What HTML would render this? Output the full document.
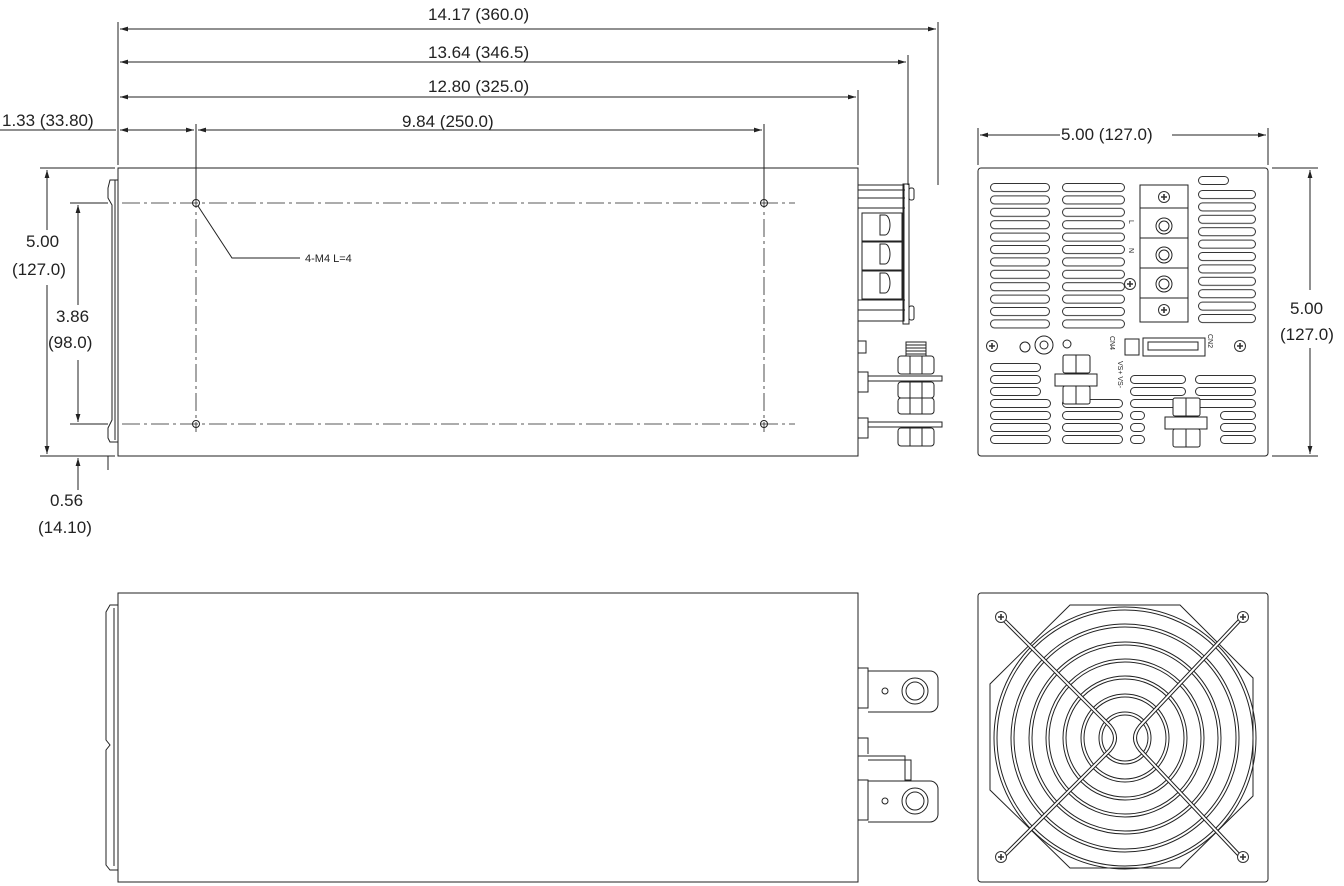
<!DOCTYPE html>
<html><head><meta charset="utf-8"><style>
html,body{margin:0;padding:0;background:#fff}
svg{display:block}
text{font-family:"Liberation Sans",sans-serif;fill:#222}
</style></head><body>
<svg width="1344" height="886" viewBox="0 0 1344 886" xmlns="http://www.w3.org/2000/svg">
<defs>
<marker id="a" viewBox="0 0 10 10" refX="10" refY="5" markerWidth="8" markerHeight="8" orient="auto-start-reverse"><path d="M0,2 L10,5 L0,8 z" fill="#222"/></marker>
<pattern id="vL1" x="990" y="183" width="200" height="12.4" patternUnits="userSpaceOnUse"><rect x="0.5" y="0.5" width="59" height="8" rx="4" fill="none" stroke="#333" stroke-width="1"/></pattern>
<pattern id="vL2" x="1062" y="183" width="200" height="12.4" patternUnits="userSpaceOnUse"><rect x="0.5" y="0.5" width="62" height="8" rx="4" fill="none" stroke="#333" stroke-width="1"/></pattern>
<pattern id="vR" x="1198" y="190" width="200" height="12.4" patternUnits="userSpaceOnUse"><rect x="0.5" y="0.5" width="57" height="8" rx="4" fill="none" stroke="#333" stroke-width="1"/></pattern>
<g id="scr"><circle r="5.5" fill="#fff" stroke="#333"/><path d="M-3,0H3M0,-3V3" stroke="#333" stroke-width="1.6"/></g>
</defs>
<g fill="none" stroke="#222" stroke-width="1">
<line x1="118" y1="22" x2="118" y2="165"/>
<line x1="938" y1="22" x2="938" y2="185"/>
<line x1="908" y1="55" x2="908" y2="185"/>
<line x1="858" y1="90" x2="858" y2="165"/>
<line x1="196" y1="124" x2="196" y2="200"/>
<line x1="764" y1="124" x2="764" y2="200"/>
<line x1="120" y1="29" x2="936" y2="29" marker-start="url(#a)" marker-end="url(#a)"/>
<line x1="120" y1="62" x2="906" y2="62" marker-start="url(#a)" marker-end="url(#a)"/>
<line x1="120" y1="97" x2="856" y2="97" marker-start="url(#a)" marker-end="url(#a)"/>
<line x1="0" y1="130" x2="116" y2="130"/>
<line x1="120" y1="130" x2="194" y2="130" marker-start="url(#a)" marker-end="url(#a)"/>
<line x1="198" y1="130" x2="762" y2="130" marker-start="url(#a)" marker-end="url(#a)"/>
<line x1="40" y1="168" x2="115" y2="168"/>
<line x1="40" y1="456" x2="115" y2="456"/>
<line x1="70" y1="203" x2="108" y2="203"/>
<line x1="70" y1="424" x2="108" y2="424"/>
<line x1="47" y1="170" x2="47" y2="230" marker-start="url(#a)"/>
<line x1="47" y1="285" x2="47" y2="454" marker-end="url(#a)"/>
<line x1="78" y1="205" x2="78" y2="305" marker-start="url(#a)"/>
<line x1="78" y1="360" x2="78" y2="422" marker-end="url(#a)"/>
<line x1="78" y1="458" x2="78" y2="490" marker-start="url(#a)"/>
<line x1="108" y1="456" x2="108" y2="470"/>
<rect x="118" y="168" width="740" height="288"/>
<path d="M118,180 L110,180 L108,188 L108,198 L112,205 L112,420 L108,428 L108,438 L110,442 L118,442"/>
<path d="M115,180 L115,440"/>
<g stroke-dasharray="18,4,3,4" stroke-width="0.8">
<line x1="122" y1="203" x2="795" y2="203"/>
<line x1="122" y1="424" x2="795" y2="424"/>
<line x1="196" y1="190" x2="196" y2="432"/>
<line x1="764" y1="190" x2="764" y2="432"/>
</g>
<circle cx="196" cy="203" r="3.5"/><circle cx="764" cy="203" r="3.5"/>
<circle cx="196" cy="424" r="3.5"/><circle cx="764" cy="424" r="3.5"/>
<path d="M198,206 L232,258 L300,258"/>
<rect x="858" y="185" width="46" height="136"/>
<path d="M858,190H905M858,198H905M858,208H905M858,300H905M858,310H905"/>
<rect x="903" y="184" width="6" height="140"/>
<rect x="909" y="188" width="5" height="12" rx="2"/><rect x="909" y="306" width="5" height="14" rx="2"/>
<rect x="862" y="213" width="40" height="28"/><rect x="862" y="242" width="40" height="28"/><rect x="862" y="271" width="40" height="28"/>
<path d="M880,215 h5 a5,10 0 0 1 0,20 h-5z M880,244 h5 a5,10 0 0 1 0,20 h-5z M880,273 h5 a5,10 0 0 1 0,20 h-5z"/>
<rect x="858" y="341" width="8" height="12"/>
<rect x="858" y="372" width="10" height="20"/><rect x="858" y="418" width="10" height="20"/>
<rect x="868" y="376" width="74" height="5"/><rect x="868" y="422" width="74" height="5"/>
<rect x="906" y="342" width="20" height="14"/>
<path d="M906,345H926M906,348H926M906,351H926M906,354H926"/>
<rect x="898" y="356" width="36" height="18" rx="3"/>
<rect x="898" y="382" width="36" height="16" rx="3"/>
<rect x="898" y="398" width="36" height="16" rx="3"/>
<rect x="898" y="428" width="36" height="18" rx="3"/>
<path d="M910,356V374M922,356V374M910,382V414M922,382V414M910,428V446M922,428V446"/>
<rect x="978" y="168" width="290" height="288" rx="3"/>
<line x1="978" y1="128" x2="978" y2="165"/><line x1="1268" y1="128" x2="1268" y2="165"/>
<line x1="980" y1="135" x2="1060" y2="135" marker-start="url(#a)"/>
<line x1="1172" y1="135" x2="1266" y2="135" marker-end="url(#a)"/>
<line x1="1272" y1="168" x2="1318" y2="168"/><line x1="1272" y1="456" x2="1318" y2="456"/>
<line x1="1310" y1="170" x2="1310" y2="290" marker-start="url(#a)"/>
<line x1="1310" y1="348" x2="1310" y2="454" marker-end="url(#a)"/>
</g>
<rect x="990" y="183" width="62" height="148" fill="url(#vL1)"/>
<rect x="1062" y="183" width="66" height="148" fill="url(#vL2)"/>
<rect x="1198" y="190" width="60" height="135" fill="url(#vR)"/>
<g fill="none" stroke="#333" stroke-width="1">
<rect x="1198.5" y="176.5" width="30" height="8" rx="4"/>
<!-- bottom vents -->
<rect x="990.5" y="363.5" width="50" height="8" rx="4"/>
<rect x="990.5" y="375.5" width="50" height="8" rx="4"/>
<rect x="990.5" y="387.5" width="50" height="8" rx="4"/>
<rect x="990.5" y="399.5" width="60" height="8" rx="4"/>
<rect x="990.5" y="411.5" width="60" height="8" rx="4"/>
<rect x="990.5" y="423.5" width="60" height="8" rx="4"/>
<rect x="990.5" y="435.5" width="60" height="8" rx="4"/>
<rect x="1062.5" y="399.5" width="60" height="8" rx="4"/>
<rect x="1062.5" y="411.5" width="60" height="8" rx="4"/>
<rect x="1062.5" y="423.5" width="60" height="8" rx="4"/>
<rect x="1062.5" y="435.5" width="60" height="8" rx="4"/>
<rect x="1130.5" y="375.5" width="55" height="8" rx="4"/>
<rect x="1130.5" y="387.5" width="55" height="8" rx="4"/>
<rect x="1130.5" y="399.5" width="55" height="8" rx="4"/>
<rect x="1130.5" y="411.5" width="14" height="8" rx="4"/>
<rect x="1130.5" y="423.5" width="14" height="8" rx="4"/>
<rect x="1130.5" y="435.5" width="14" height="8" rx="4"/>
<rect x="1195.5" y="375.5" width="60" height="8" rx="4"/>
<rect x="1195.5" y="387.5" width="60" height="8" rx="4"/>
<rect x="1195.5" y="399.5" width="60" height="8" rx="4"/>
<rect x="1220.5" y="411.5" width="35" height="8" rx="4"/>
<rect x="1220.5" y="423.5" width="35" height="8" rx="4"/>
<rect x="1220.5" y="435.5" width="35" height="8" rx="4"/>
</g>
<g fill="none" stroke="#222" stroke-width="1">
<rect x="1140" y="185" width="48" height="137"/>
<path d="M1140,208H1188M1140,298H1188M1140,238H1188M1140,268H1188"/>
<circle cx="1164" cy="226" r="8"/><circle cx="1164" cy="226" r="5"/>
<circle cx="1164" cy="255" r="8"/><circle cx="1164" cy="255" r="5"/>
<circle cx="1164" cy="284" r="8"/><circle cx="1164" cy="284" r="5"/>
<circle cx="1025" cy="347" r="5"/>
<circle cx="1044" cy="345" r="9"/><circle cx="1044" cy="345" r="4"/>
<circle cx="1067" cy="344" r="4"/>
<rect x="1125" y="339" width="14" height="16"/>
<rect x="1143" y="338" width="62" height="18"/>
<path d="M1148,342h50v8h-50z"/>
<rect x="1063" y="355" width="27" height="18" rx="2" fill="#fff"/>
<rect x="1055" y="374" width="42" height="12" fill="#fff"/>
<rect x="1063" y="386" width="27" height="18" rx="2" fill="#fff"/>
<path d="M1076,355V373M1076,386V404"/>
<rect x="1173" y="398" width="27" height="18" rx="2" fill="#fff"/>
<rect x="1165" y="417" width="42" height="12" fill="#fff"/>
<rect x="1173" y="429" width="27" height="18" rx="2" fill="#fff"/>
<path d="M1186,398V416M1186,429V447"/>
</g>
<use href="#scr" x="1164" y="197"/><use href="#scr" x="1164" y="310"/>
<use href="#scr" x="992" y="346"/><use href="#scr" x="1240" y="346"/>
<use href="#scr" x="1130" y="284"/>
<g font-size="7"><text x="1128" y="227" transform="rotate(90 1132 224)">L</text><text x="1128" y="255" transform="rotate(90 1132 252)">N</text>
<text x="1104" y="350" transform="rotate(90 1114 346)">CN4</text><text x="1200" y="350" transform="rotate(90 1212 346)">CN2</text>
<text x="1115" y="372" transform="rotate(90 1122 368)">VS+ VS-</text></g>
<g fill="none" stroke="#222" stroke-width="1">
<rect x="118" y="593" width="740" height="289"/>
<path d="M118,605 L110,605 L106,612 L106,740 L110,745 L106,750 L106,865 L110,870 L118,870"/>
<path d="M114,608 L114,866"/>
<rect x="858" y="668" width="10" height="40"/><rect x="858" y="780" width="10" height="40"/>
<path d="M868,671 H930 a8,8 0 0 1 8,8 V704 a8,8 0 0 1 -8,8 H868"/>
<path d="M868,781 H930 a8,8 0 0 1 8,8 V814 a8,8 0 0 1 -8,8 H868"/>
<circle cx="885" cy="691" r="3"/><circle cx="885" cy="801" r="3"/>
<circle cx="915" cy="691" r="13"/><circle cx="915" cy="691" r="9"/>
<circle cx="915" cy="801" r="13"/><circle cx="915" cy="801" r="9"/>
<path d="M858,738 h10 v16 M858,756 H905 V775 M868,760 H905"/>
<rect x="905" y="760" width="6" height="20"/>
<rect x="978" y="593" width="290" height="289" rx="3"/>
<path d="M1070,605 H1180 L1253,678 V796 L1180,868 H1070 L990,790 V684 Z"/>
<g>
<circle cx="1125" cy="738" r="131"/><circle cx="1125" cy="738" r="128"/>
<circle cx="1125" cy="738" r="114"/><circle cx="1125" cy="738" r="111"/>
<circle cx="1125" cy="738" r="96"/><circle cx="1125" cy="738" r="93"/>
<circle cx="1125" cy="738" r="79"/><circle cx="1125" cy="738" r="76"/>
<circle cx="1125" cy="738" r="62"/><circle cx="1125" cy="738" r="59"/>
<circle cx="1125" cy="738" r="44"/><circle cx="1125" cy="738" r="41"/>
<circle cx="1125" cy="738" r="26"/><circle cx="1125" cy="738" r="23"/>
</g>
<path d="M1004,620 L1110,726 Q1120,738 1110,750 L1004,856" stroke-width="4" stroke="#222"/>
<path d="M1004,620 L1110,726 Q1120,738 1110,750 L1004,856" stroke-width="2" stroke="#fff"/>
<path d="M1240,620 L1140,726 Q1130,738 1140,750 L1240,856" stroke-width="4" stroke="#222"/>
<path d="M1240,620 L1140,726 Q1130,738 1140,750 L1240,856" stroke-width="2" stroke="#fff"/>
</g>
<use href="#scr" x="1001" y="617"/><use href="#scr" x="1243" y="617"/>
<use href="#scr" x="1001" y="857"/><use href="#scr" x="1243" y="857"/>
<g font-size="17">
<text x="428" y="20">14.17 (360.0)</text>
<text x="428" y="58">13.64 (346.5)</text>
<text x="428" y="92">12.80 (325.0)</text>
<text x="2" y="126">1.33 (33.80)</text>
<text x="402" y="127">9.84 (250.0)</text>
<text x="26" y="247">5.00</text><text x="12" y="275">(127.0)</text>
<text x="56" y="322">3.86</text><text x="48" y="348">(98.0)</text>
<text x="50" y="506">0.56</text><text x="38" y="533">(14.10)</text>
<text x="1061" y="140">5.00 (127.0)</text>
<text x="1290" y="314">5.00</text><text x="1280" y="340">(127.0)</text>
</g>
<text x="305" y="262" font-size="11">4-M4 L=4</text>
</svg>
</body></html>
